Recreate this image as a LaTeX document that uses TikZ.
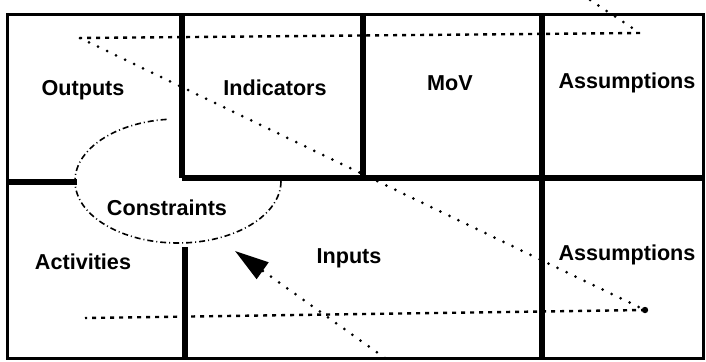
\documentclass[tikz,border=0pt]{standalone}
\usepackage{fontspec}
\setmainfont{Liberation Sans}
\usetikzlibrary{arrows.meta}

\tikzset{
  frame/.style={line width=1.5pt},
  wall/.style={line width=3pt},
  lbl/.style={font=\bfseries\fontsize{10.8}{12}\selectfont, inner sep=0pt},
  dashline/.style={line width=1.2pt, dash pattern=on 2pt off 2.5pt},
  dotline/.style={line width=1.5pt, line cap=round, dash pattern=on 0pt off 5pt},
  blob/.style={line width=0.8pt, dash pattern=on 3pt off 1.5pt on 0.5pt off 1.5pt},
}

\begin{document}
\begin{tikzpicture}[x=0.5pt,y=-0.5pt]
   \useasboundingbox (0,0) rectangle (706,361);
   \fill[white] (0,0) rectangle (706,361);
   % constraints bubble, top part hidden behind the indicators cell
   \draw[blob] (178,181) ellipse [x radius=51.5pt, y radius=31pt];
   \fill[white] (168,14) rectangle (363,178);
   % frame and cell walls
   \draw[frame] (7,14) rectangle (703,358);
   \draw[wall] (182,14) -- (182,178) (363,14) -- (363,178) (542,14) -- (542,358);
   \draw[wall] (182,178) -- (703,178);
   \draw[wall] (7,182) -- (77,182);
   \draw[wall] (185,247) -- (185,358);

   \node[lbl] (outputs) at (83,90) {Outputs};
   \node[lbl] (indicators) at (275,88) {Indicators};
   \node[lbl] (mov) at (450,83) {MoV};
   \node[lbl] (assumtop) at (627,83) {Assumptions};
   \node[lbl] (constraints) at (167,208) {Constraints};
   \node[lbl] (activities) at (83,262) {Activities};
   \node[lbl] (inputs) at (349,258) {Inputs};
   \node[lbl] (assumbot) at (627,255) {Assumptions};

   % the zig-zag reading path
   \coordinate (z0) at (590,0);
   \coordinate (z1) at (640,33);
   \coordinate (z2) at (80,38);
   \coordinate (z3) at (645,310);
   \coordinate (z4) at (85,318);
   \draw[dotline] (z0) -- (z1);
   \draw[dashline] (z1) -- (z2);
   \draw[dotline] (z2) -- (z3);
   \draw[dashline] (z3) -- (z4);
   \fill (z3) circle (1.6pt);

   % arrow up into the constraints
   \coordinate (a0) at (385,358);
   \coordinate (a1) at (235,251);
   \draw[dotline, -{Triangle[length=17pt,width=10pt]}] (a0) -- (a1);
\end{tikzpicture}
\end{document}
